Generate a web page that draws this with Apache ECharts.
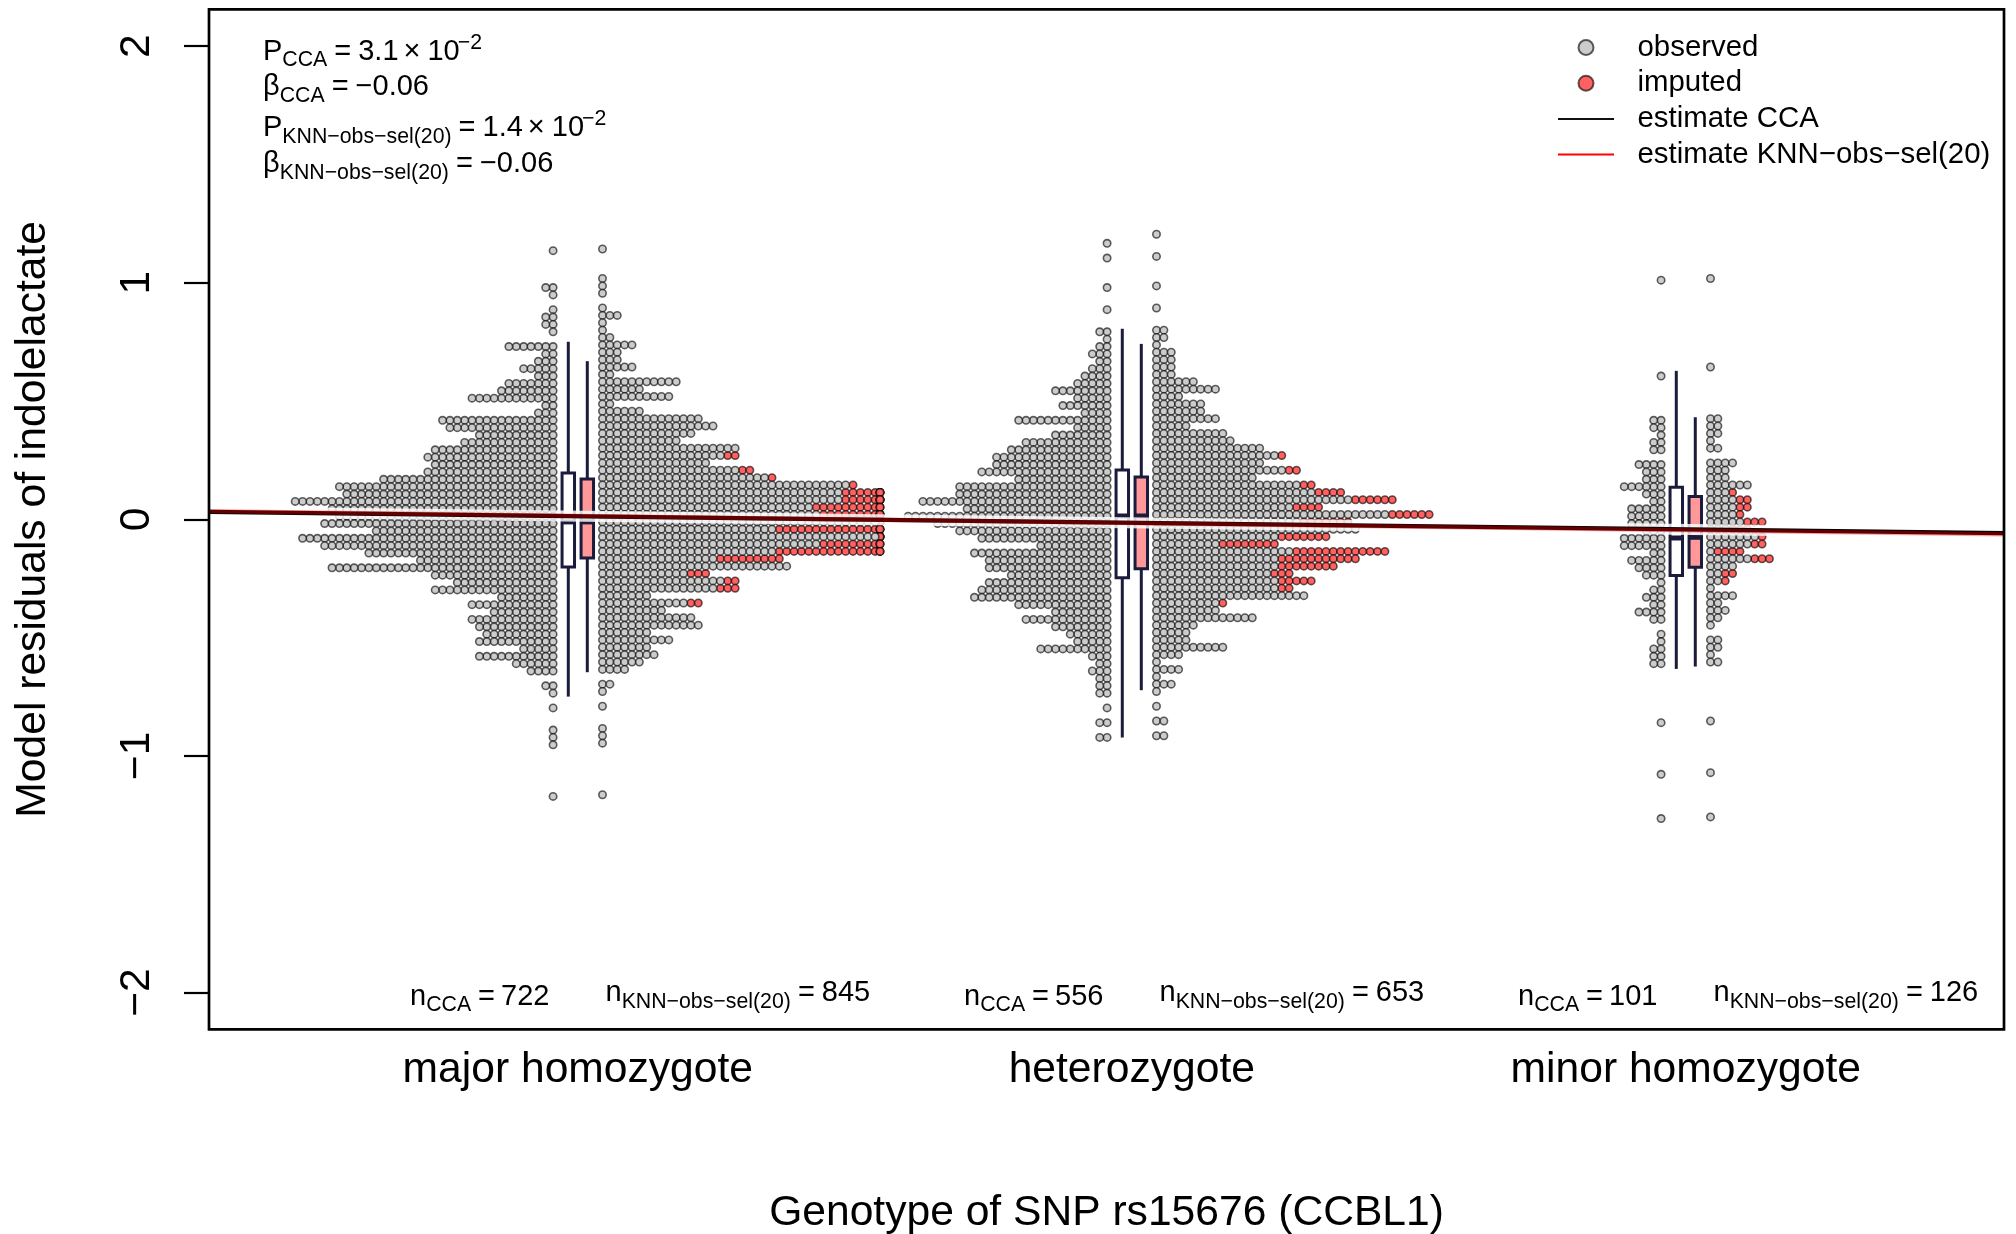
<!DOCTYPE html>
<html><head><meta charset="utf-8">
<style>html,body{margin:0;padding:0;background:#fff}#c{width:2016px;height:1234px}</style>
<script src="https://cdn.jsdelivr.net/npm/echarts@6/dist/echarts.min.js"></script>
</head><body><div id="c"></div>
<script>
const groupNames = ['major homozygote', 'heterozygote', 'minor homozygote'];
const yTicks = [-2, -1, 0, 1, 2];
const rowStep = 0.03117, colStep = 0.0133, innerOffset = 0.0446, outerLimit = 0.5455;

// dots per stacked row, top row first (count includes imputed dots, which sit at the outer end)
const majorLeftTop = 1.1354;
const majorLeftCounts = [1,0,0,0,0,2,1,0,1,2,2,1,0,7,2,3,5,3,7,8,12,2,3,16,15,11,13,17,18,17,18,24,30,29,36,31,30,32,25,35,32,26,19,31,17,14,17,8,12,9,12,11,10,11,5,11,6,4,0,2,1,0,1,0,0,1,1,1,0,0,0,0,0,0,1];
const majorRightTop = 1.1424;
const majorRightCounts = [1,0,0,0,1,1,1,0,1,3,1,1,2,5,3,3,5,2,11,6,10,2,6,14,16,13,11,19,19,15,21,24,35,43,44,41,44,42,42,44,41,41,25,26,15,19,19,7,14,9,13,14,7,10,7,8,6,4,0,2,1,0,1,0,0,1,1,1,0,0,0,0,0,0,1];
const majorRightImputed = {28:2,30:2,31:1,32:1,33:10,34:11,35:12,36:14,37:4,38:18,39:6,40:11,41:17,42:9,44:3,45:2,46:3,48:2};

const hetLeftTop = 1.1666;
const hetLeftCounts = [1,0,1,0,0,0,1,0,0,1,0,0,2,1,2,3,2,3,4,5,8,5,7,4,13,5,8,12,14,16,16,18,13,21,21,26,20,28,24,21,18,10,19,17,17,14,17,18,19,13,8,12,8,6,5,10,3,2,3,2,2,2,0,1,0,2,0,2];
const hetRightTop = 1.2047;
const hetRightCounts = [1,0,0,1,0,0,0,1,0,0,1,0,0,2,2,1,3,3,3,3,6,9,4,7,7,9,5,10,11,15,18,15,20,14,22,26,33,23,38,27,28,24,17,32,28,25,19,22,19,21,10,9,14,6,5,5,10,4,1,4,1,3,1,0,1,0,2,0,2];
const hetRightImputed = {30:1,32:2,34:2,35:4,36:6,37:4,38:6,39:7,41:7,42:8,43:13,44:11,45:8,46:3,47:5,48:2,50:1};

const minorLeftTop = 1.0107;
const minorLeftCounts = [1,0,0,0,0,0,0,0,0,0,0,0,0,1,0,0,0,0,0,2,2,1,2,2,0,4,3,3,6,3,2,5,5,5,3,6,6,2,5,4,3,1,2,3,2,4,2,0,1,1,2,2,2,0,0,0,0,0,0,0,1,0,0,0,0,0,0,1,0,0,0,0,0,1];
const minorRightTop = 1.0177;
const minorRightCounts = [1,0,0,0,0,0,0,0,0,0,0,0,1,0,0,0,0,0,0,2,2,2,1,2,0,4,3,3,6,4,6,6,5,8,6,8,8,5,9,4,4,3,1,4,2,3,2,1,0,2,2,1,2,0,0,0,0,0,0,0,1,0,0,0,0,0,0,1,0,0,0,0,0,1];
const minorRightImputed = {29:1,30:2,31:2,32:1,33:3,34:3,35:1,36:2,37:4,38:3,40:2,41:1};

// box statistics: [low whisker, Q1, median, Q3, high whisker]
const boxOffset = 0.01715, boxWidth = 0.0225;
const majorCCA = [-0.743,-0.202,-0.011,0.196,0.744];
const majorKNN = [-0.640,-0.164,-0.011,0.170,0.662];
const hetCCA   = [-0.916,-0.247,0.014,0.208,0.799];
const hetKNN   = [-0.716,-0.209,0.014,0.179,0.735];
const minorCCA = [-0.626,-0.237,-0.079,0.135,0.621];
const minorKNN = [-0.616,-0.203,-0.076,0.096,0.425];

// estimate lines
const xMin = 0.3343, xMax = 3.5744;
const ccaLine = [[xMin,0.0315],[xMax,-0.0585]];
const knnLine = [[xMin,0.0345],[xMax,-0.0640]];

const observed = [], imputed = [];
function addRows(center, side, top, counts, imp) {
  counts.forEach((n, r) => {
    const nImp = (imp && imp[r]) || 0;
    for (let i = 0; i < n; i++) {
      const x = center + side * Math.min(innerOffset + i * colStep, outerLimit);
      (i >= n - nImp ? imputed : observed).push([x, top - r * rowStep]);
    }
  });
}
addRows(1,-1,majorLeftTop,majorLeftCounts);
addRows(1, 1,majorRightTop,majorRightCounts,majorRightImputed);
addRows(2,-1,hetLeftTop,hetLeftCounts);
addRows(2, 1,hetRightTop,hetRightCounts,hetRightImputed);
addRows(3,-1,minorLeftTop,minorLeftCounts);
addRows(3, 1,minorRightTop,minorRightCounts,minorRightImputed);

const boxes = [
  [1-boxOffset,...majorCCA,0],[1+boxOffset,...majorKNN,1],
  [2-boxOffset,...hetCCA,0],[2+boxOffset,...hetKNN,1],
  [3-boxOffset,...minorCCA,0],[3+boxOffset,...minorKNN,1]
];
const boxFills = ['#ffffff', '#ff9999'];
const boxInk = '#1b1b3c';

const FONT = '"Liberation Sans", Arial, Helvetica, sans-serif';
const ctx = document.createElement('canvas').getContext('2d');
const MAIN = 29, SUB = 21.3;
// runs: [text, kind, gap before] kind m = main, s = subscript, u = superscript
function mathLine(x, base, runs) {
  const out = [];
  runs.forEach(([t, kind, gap]) => {
    const size = kind === 'm' ? MAIN : SUB;
    x += gap || 0;
    const b = base + (kind === 's' ? 5.5 : kind === 'u' ? -12 : 0);
    out.push({type:'text', silent:true, z:50, style:{text:t, x:x, y:b - 0.3465*size,
      font: size + 'px ' + FONT, fill:'#000', textAlign:'left', textVerticalAlign:'middle', verticalAlign:'middle'}});
    ctx.font = size + 'px ' + FONT;
    x += ctx.measureText(t).width;
  });
  return out;
}
const KNN = 'KNN\u2212obs\u2212sel(20)';
const nCCA = ['722','556','101'], nKNN = ['845','653','126'];
let texts = [
  ...mathLine(263, 62, [['P','m'],['CCA','s'],['=','m',7],['3.1','m',7],['\u00d7','m',5],['10','m',7],['\u22122','u',-2]]),
  ...mathLine(263, 97.5, [['\u03b2','m'],['CCA','s'],['=','m',7],['\u22120.06','m',7]]),
  ...mathLine(263, 138.5, [['P','m'],[KNN,'s'],['=','m',7],['1.4','m',7],['\u00d7','m',5],['10','m',7],['\u22122','u',-2]]),
  ...mathLine(263, 174.5, [['\u03b2','m'],[KNN,'s'],['=','m',7],['\u22120.06','m',7]])
];
nCCA.forEach((v,i) => {
  texts = texts.concat(mathLine(410+554*i, 1007, [['n','m'],['CCA','s'],['=','m',7],[v,'m',6]]));
  texts = texts.concat(mathLine(605.5+554*i, 1003.5, [['n','m'],[KNN,'s'],['=','m',7],[nKNN[i],'m',7]]));
});

const dotBorder = 'rgba(0,0,0,0.62)';
const hiddenIcon = {color:'rgba(0,0,0,0)',borderColor:'rgba(0,0,0,0)',borderWidth:0,opacity:0};
const chart = echarts.init(document.getElementById('c'), null, {renderer:'canvas'});
chart.setOption({
  animation:false,
  backgroundColor:'#fff',
  textStyle:{fontFamily:FONT},
  grid:{show:true,left:209,top:9.3,width:1795,height:1020,outerBoundsMode:'none',borderColor:'#000',borderWidth:2.7,backgroundColor:'transparent',z:30},
  xAxis:{type:'value',min:xMin,max:xMax,splitLine:{show:false},axisLine:{show:false},axisTick:{show:false},
    axisLabel:{customValues:[1,2,3],formatter:v=>groupNames[Math.round(v)-1],fontSize:42.6,color:'#000',margin:19.5,fontFamily:FONT,hideOverlap:false},
    name:'Genotype of SNP rs15676 (CCBL1)',nameLocation:'middle',nameGap:162.5,nameTextStyle:{fontSize:42.6,color:'#000',fontFamily:FONT}},
  yAxis:{type:'value',min:-2.1555,max:2.1555,splitLine:{show:false},axisLine:{show:false},
    axisTick:{show:true,length:25,customValues:yTicks,lineStyle:{color:'#000',width:2.2}},
    axisLabel:{customValues:yTicks,rotate:90,formatter:v=>String(v).replace('-','\u2212'),fontSize:42.6,color:'#000',margin:72,fontFamily:FONT,verticalAlign:'middle',align:'center',hideOverlap:false},
    name:'Model residuals of indolelactate',nameLocation:'middle',nameRotate:90,nameGap:154,nameTextStyle:{fontSize:42.6,color:'#000',fontFamily:FONT}},
  legend:{orient:'vertical',left:1557,top:33,padding:0,itemWidth:56,itemHeight:15,itemGap:6.7,
    textStyle:{fontSize:29.4,color:'#000',fontFamily:FONT,padding:[0,0,0,18.5]},selectedMode:false,
    data:[
      {name:'observed',icon:'circle'},
      {name:'imputed',icon:'circle'},
      {name:'estimate CCA',lineStyle:{color:'#111',width:2},itemStyle:hiddenIcon},
      {name:'estimate '+KNN,lineStyle:{color:'#f00',width:2},itemStyle:hiddenIcon}
    ]},
  graphic:{elements:texts},
  series:[
    {name:'imputed',type:'scatter',data:imputed,symbolSize:7.4,z:2,progressive:0,
     itemStyle:{color:'#ff6060',borderColor:dotBorder,borderWidth:1.6,opacity:1}},
    {name:'observed',type:'scatter',data:observed,symbolSize:7.4,z:3,progressive:0,
     itemStyle:{color:'#cccccc',borderColor:dotBorder,borderWidth:1.6,opacity:1}},
    {name:'boxes',type:'custom',z:4,data:boxes,encode:{x:0,y:[1,2,3,4,5]},silent:true,
     renderItem(params,api){
       const x=api.value(0), P=i=>api.coord([x,api.value(i)]);
       const w=api.size([boxWidth,0])[0];
       const lo=P(1),q1=P(2),med=P(3),q3=P(4),hi=P(5),cx=lo[0];
       const fill=boxFills[api.value(6)];
       const s={stroke:boxInk,lineWidth:3,fill:'none',lineCap:'square'};
       return {type:'group',children:[
         {type:'line',shape:{x1:cx,y1:lo[1],x2:cx,y2:q1[1]},style:s},
         {type:'line',shape:{x1:cx,y1:q3[1],x2:cx,y2:hi[1]},style:s},
         {type:'rect',shape:{x:cx-w/2,y:q3[1],width:w,height:q1[1]-q3[1]},style:{fill:fill,stroke:boxInk,lineWidth:3}},
         {type:'line',shape:{x1:cx-w/2,y1:med[1],x2:cx+w/2,y2:med[1]},style:{stroke:boxInk,lineWidth:5}}
       ]};
     }},
    {name:'halo',type:'line',data:ccaLine,z:5,symbol:'none',silent:true,lineStyle:{color:'rgba(255,255,255,0.82)',width:11}},
    {name:'estimate CCA',type:'line',data:ccaLine,z:6,symbol:'none',silent:true,lineStyle:{color:'#000',width:4.2}},
    {name:'estimate '+KNN,type:'line',data:knnLine,z:7,symbol:'none',silent:true,lineStyle:{color:'rgba(255,0,0,0.38)',width:4.2}}
  ]
});
</script></body></html>
